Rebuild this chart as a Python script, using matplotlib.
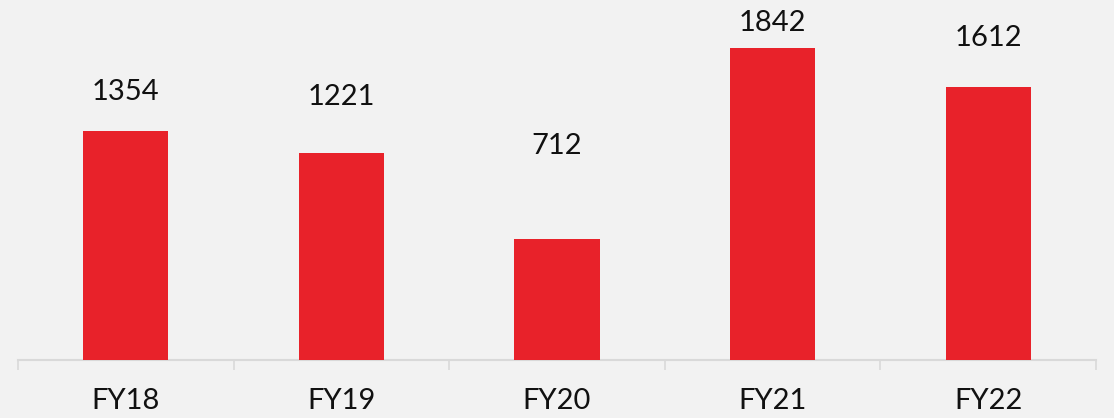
import matplotlib
matplotlib.use("Agg")
import matplotlib.pyplot as plt
import numpy as np

categories = ["FY18", "FY19", "FY20", "FY21", "FY22"]
values = [1354, 1221, 712, 1842, 1612]

# layout: baseline offset (points) of each value label above its bar top
label_offsets_pt = [22.3, 34.8, 61.2, 12.2, 29.2]

bg = "#f2f2f2"
bar_color = "#e8222a"

plt.rcParams['font.family'] = ['Lato', 'DejaVu Sans']

fig = plt.figure(figsize=(11.14, 4.18), dpi=100, facecolor=bg)
ax = fig.add_axes([18/1114, 58/418, 1078/1114, 360/418])
ax.set_facecolor(bg)

x = np.arange(len(categories))
ax.bar(x, values, width=0.395, color=bar_color, zorder=3)

for xi, v, off in zip(x, values, label_offsets_pt):
    ax.annotate(str(v), (xi, v), xytext=(0, off), textcoords="offset points",
                ha="center", va="baseline", fontsize=21, color="#111111")

ax.set_xlim(-0.5, len(categories) - 0.5)
ax.set_ylim(0, 2125)
ax.set_xticks(x)
ax.set_xticklabels(categories, fontsize=21, color="#111111")
ax.tick_params(axis="x", which="major", length=0, pad=20.5)
ax.set_xticks(np.arange(-0.5, len(categories)), minor=True)
ax.tick_params(axis="x", which="minor", length=7.5, width=1.2, color="#d9d9d9")
ax.set_yticks([])
for s in ["left", "right", "top"]:
    ax.spines[s].set_visible(False)
ax.spines["bottom"].set_color("#d9d9d9")
ax.spines["bottom"].set_linewidth(1.5)

fig.savefig("out.png", dpi=100, facecolor=bg)
